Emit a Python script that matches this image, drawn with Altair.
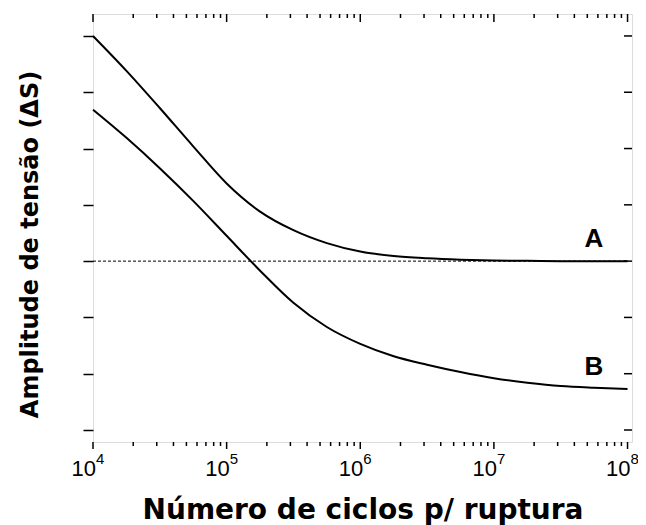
import altair as alt
import pandas as pd

# Number of cycles (shared grid for both curves)
cycles = [1.0e4, 1.78e4, 3.16e4, 5.62e4, 1.0e5, 1.78e5, 3.16e5, 5.62e5, 1.0e6,
          1.78e6, 3.16e6, 5.62e6, 1.0e7, 1.78e7, 3.16e7, 5.62e7, 1.0e8]

# Curve A stress amplitude (arbitrary units)
a_s = [7.00, 6.38, 5.72, 5.04, 4.38, 3.88, 3.55, 3.32, 3.17,
       3.09, 3.05, 3.025, 3.01, 3.005, 3.00, 3.00, 3.00]

# Curve B stress amplitude
b_s = [5.69, 5.19, 4.65, 4.07, 3.45, 2.83, 2.26, 1.83, 1.53,
       1.31, 1.16, 1.03, 0.92, 0.84, 0.78, 0.75, 0.73]

# Fatigue limit (dashed line)
limit_n = [1.0e4, 1.0e8]
limit_s = [3.0, 3.0]

# Curve labels
label_text = ["A", "B"]
label_n = [5.6e7, 5.6e7]
label_s = [3.40, 1.12]

# Axis ticks
decades = [1e4, 1e5, 1e6, 1e7, 1e8]
exponents = ["4", "5", "6", "7", "8"]
minor = [m * d for d in decades[:-1] for m in range(2, 10)]
y_ticks = [0, 1, 2, 3, 4, 5, 6, 7]

W, H = 539, 428
FONT = "Liberation Sans"
TFONT = "DejaVu Sans"

curves = pd.DataFrame({
    "N": cycles + cycles,
    "S": a_s + b_s,
    "curve": ["A"] * len(cycles) + ["B"] * len(cycles),
})
limit = pd.DataFrame({"N": limit_n, "S": limit_s})
labels = pd.DataFrame({"t": label_text, "N": label_n, "S": label_s})
dec = pd.DataFrame({"N": decades, "e": exponents})
mnr = pd.DataFrame({"N": minor})
yt = pd.DataFrame({"S": y_ticks})

xscale = alt.Scale(type="log", domain=[1e4, 1.08e8], nice=False)
yscale = alt.Scale(domain=[-0.213, 7.39], nice=False, zero=False)

x_axis = alt.Axis(title="Número de ciclos p/ ruptura", ticks=False, labels=False,
                  domain=False, grid=False, values=[1e4],
                  titleFont=TFONT, titleFontSize=28, titleFontWeight="bold",
                  titleColor="black", titleBaseline="alphabetic", titleY=76)
y_axis = alt.Axis(title="Amplitude de tensão (ΔS)", values=y_ticks, labels=False,
                  tickSize=10, tickWidth=1.5, tickColor="black", domain=False, grid=False,
                  titleFont=TFONT, titleFontSize=24, titleFontWeight="bold",
                  titleColor="black", titleBaseline="alphabetic", titleX=-56, titleY=230,
                  titleAngle=-90)

lines = alt.Chart(curves).mark_line(color="black", strokeWidth=2, interpolate="monotone").encode(
    x=alt.X("N:Q", scale=xscale, axis=x_axis),
    y=alt.Y("S:Q", scale=yscale, axis=y_axis),
    detail="curve:N",
)

dashed = alt.Chart(limit).mark_line(color="black", strokeWidth=1, strokeDash=[3, 2]).encode(
    x=alt.X("N:Q", scale=xscale),
    y=alt.Y("S:Q", scale=yscale),
)

txt = alt.Chart(labels).mark_text(font=FONT, fontSize=26, fontWeight="bold",
                                  baseline="middle", align="center", color="black").encode(
    x=alt.X("N:Q", scale=xscale),
    y=alt.Y("S:Q", scale=yscale),
    text="t:N",
)

top_major = alt.Chart(dec).mark_rule(color="black", strokeWidth=1.5).encode(
    x=alt.X("N:Q", scale=xscale), y=alt.value(0), y2=alt.value(8))
top_minor = alt.Chart(mnr).mark_rule(color="black", strokeWidth=1.5).encode(
    x=alt.X("N:Q", scale=xscale), y=alt.value(0), y2=alt.value(4))
bot_major = alt.Chart(dec).mark_rule(color="black", strokeWidth=1.5).encode(
    x=alt.X("N:Q", scale=xscale), y=alt.value(H), y2=alt.value(H + 7))
bot_minor = alt.Chart(mnr).mark_rule(color="black", strokeWidth=1.5).encode(
    x=alt.X("N:Q", scale=xscale), y=alt.value(H), y2=alt.value(H + 4))
right_ticks = alt.Chart(yt).mark_rule(color="black", strokeWidth=1.5).encode(
    y=alt.Y("S:Q", scale=yscale), x=alt.value(W - 8), x2=alt.value(W))

ten = alt.Chart(dec).mark_text(font=FONT, fontSize=22, align="right", baseline="alphabetic",
                               dx=3, color="black").encode(
    x=alt.X("N:Q", scale=xscale), y=alt.value(462), text=alt.value("10"))
sup = alt.Chart(dec).mark_text(font=FONT, fontSize=15, align="left", baseline="alphabetic",
                               dx=3, color="black").encode(
    x=alt.X("N:Q", scale=xscale), y=alt.value(450), text="e:N")

chart = alt.layer(
    lines, dashed, txt, top_major, top_minor, bot_major, bot_minor, right_ticks, ten, sup
).properties(
    width=W, height=H,
    autosize=alt.AutoSizeParams(type="none"),
    padding={"left": 85, "top": 6, "right": 6, "bottom": 83},
).configure_view(
    stroke="black", strokeWidth=2
).configure(background="white")

chart.save("out.html", embed_options={"renderer": "svg", "actions": False})
